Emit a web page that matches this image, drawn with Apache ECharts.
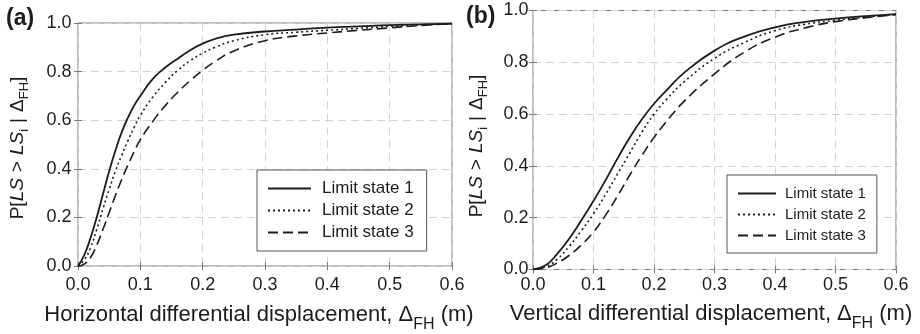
<!DOCTYPE html>
<html>
<head>
<meta charset="utf-8">
<script src="https://cdn.jsdelivr.net/npm/echarts@6/dist/echarts.min.js"></script>
<style>
html,body{margin:0;padding:0;background:#fff;}
#c{width:920px;height:334px;}
</style>
</head>
<body>
<div id="c"></div>
<script>
// ---- data ----
const seriesNames = ['Limit state 1', 'Limit state 2', 'Limit state 3'];

// (a) horizontal differential displacement
const xsH  = [0, 0.01, 0.02, 0.03, 0.04, 0.05, 0.06, 0.07, 0.08, 0.09, 0.1, 0.12, 0.14, 0.16, 0.18, 0.2, 0.22, 0.25, 0.3, 0.35, 0.4, 0.45, 0.5, 0.55, 0.6];
const ls1H = [0, 0.045, 0.115, 0.20, 0.295, 0.39, 0.475, 0.55, 0.61, 0.66, 0.70, 0.77, 0.817, 0.853, 0.888, 0.915, 0.935, 0.952, 0.965, 0.973, 0.981, 0.986, 0.991, 0.994, 0.997];
const ls2H = [0, 0.025, 0.075, 0.15, 0.235, 0.315, 0.39, 0.455, 0.515, 0.57, 0.62, 0.695, 0.755, 0.805, 0.845, 0.876, 0.90, 0.927, 0.952, 0.962, 0.970, 0.978, 0.986, 0.992, 0.997];
const ls3H = [0, 0.008, 0.035, 0.085, 0.15, 0.22, 0.29, 0.355, 0.415, 0.47, 0.52, 0.595, 0.66, 0.715, 0.763, 0.805, 0.842, 0.885, 0.927, 0.947, 0.959, 0.97, 0.98, 0.99, 0.997];

// (b) vertical differential displacement
const xsV  = [0, 0.02, 0.04, 0.06, 0.08, 0.1, 0.12, 0.14, 0.16, 0.18, 0.2, 0.22, 0.25, 0.3, 0.35, 0.4, 0.45, 0.5, 0.55, 0.6];
const ls1V = [0, 0.015, 0.06, 0.12, 0.19, 0.265, 0.345, 0.43, 0.51, 0.58, 0.64, 0.69, 0.76, 0.845, 0.90, 0.935, 0.956, 0.969, 0.978, 0.986];
const ls2V = [0, 0.01, 0.04, 0.09, 0.15, 0.215, 0.29, 0.37, 0.45, 0.53, 0.60, 0.655, 0.725, 0.815, 0.877, 0.922, 0.947, 0.962, 0.975, 0.985];
const ls3V = [0, 0.006, 0.025, 0.055, 0.095, 0.145, 0.21, 0.285, 0.365, 0.44, 0.51, 0.57, 0.65, 0.755, 0.84, 0.897, 0.933, 0.957, 0.972, 0.984];

const xMin = 0, xMax = 0.6, xStep = 0.1;
const yMin = 0, yMax = 1.0, yStep = 0.2;

// ---- styling ----
const FONT = '"Liberation Sans", Arial, sans-serif';
const INK = '#1c1c1c';
const BORDER = '#7a7a7a';
const GRIDC = '#d4d4d4';
const lineTypes = ['solid', [2, 3], [10, 5]];
const lineWidths = [1.8, 1.6, 1.6];

function zip(xs, ys) { return xs.map((x, i) => [x, ys[i]]); }

const grids = [
  { left: 78, top: 23, width: 374, height: 243 },
  { left: 533, top: 10.5, width: 363, height: 259 }
];

function xTitle(label) {
  return '{t|' + label + ', Δ}{s|FH}{t| (m)}';
}
const yTitle = '{t|P[}{it|LS}{g|>}{it|LS}{s|i}{g||}{t|Δ}{s|FH}{t|]}';

function titleRich(size, subSize, subPad, gapPad) {
  return {
    t: { fontFamily: FONT, fontSize: size, fill: INK, color: INK },
    g: { fontFamily: FONT, fontSize: size, fill: INK, color: INK, padding: [0, gapPad || 0, 0, gapPad || 0] },
    it: { fontFamily: FONT, fontSize: size, fill: INK, color: INK, fontStyle: 'italic' },
    s: { fontFamily: FONT, fontSize: subSize, fill: INK, color: INK, padding: [subPad, 0, 0, 0] }
  };
}

const xAxes = [], yAxes = [];
const panelCfg = [
  { tick: 18, xLabMargin: 10, yLabMargin: 6.5 },
  { tick: 18, xLabMargin: 7, yLabMargin: 4.5 }
];

panelCfg.forEach((p, g) => {
  xAxes.push({
    type: 'value', gridIndex: g, min: xMin, max: xMax, interval: xStep, position: 'bottom',
    axisLine: { show: false },
    axisTick: { show: true, inside: true, length: 4, lineStyle: { color: BORDER } },
    axisLabel: { fontFamily: FONT, fontSize: p.tick, color: INK, margin: p.xLabMargin, formatter: v => v.toFixed(1), showMaxLabel: true, showMinLabel: true },
    splitLine: { show: true, lineStyle: { color: GRIDC, type: [8, 5], width: 1 } }
  });
  xAxes.push({
    type: 'value', gridIndex: g, min: xMin, max: xMax, interval: xStep, position: 'top',
    axisLine: { show: false },
    axisTick: { show: true, inside: true, length: 4, lineStyle: { color: BORDER } },
    axisLabel: { show: false }, splitLine: { show: false }
  });
  yAxes.push({
    type: 'value', gridIndex: g, min: yMin, max: yMax, interval: yStep, position: 'left',
    axisLine: { show: false },
    axisTick: { show: true, inside: true, length: 4, lineStyle: { color: BORDER } },
    axisLabel: { fontFamily: FONT, fontSize: p.tick, color: INK, margin: p.yLabMargin, formatter: v => v.toFixed(1) },
    splitLine: { show: true, lineStyle: { color: GRIDC, type: [8, 5], width: 1 } }
  });
  yAxes.push({
    type: 'value', gridIndex: g, min: yMin, max: yMax, interval: yStep, position: 'right',
    axisLine: { show: false },
    axisTick: { show: true, inside: true, length: 4, lineStyle: { color: BORDER } },
    axisLabel: { show: false }, splitLine: { show: false }
  });
});

const panelData = [
  [zip(xsH, ls1H), zip(xsH, ls2H), zip(xsH, ls3H)],
  [zip(xsV, ls1V), zip(xsV, ls2V), zip(xsV, ls3V)]
];

const series = [];
panelData.forEach((sets, g) => {
  sets.forEach((d, k) => {
    series.push({
      type: 'line', name: seriesNames[k], data: d,
      xAxisIndex: g * 2, yAxisIndex: g * 2,
      smooth: 0.5,
      symbol: 'none', showSymbol: false, silent: true,
      lineStyle: { color: INK, width: lineWidths[k], type: lineTypes[k] },
      itemStyle: { color: INK },
      z: 5 - k
    });
  });
});

const legends = [
  { left: 257, top: 170, itemWidth: 43, itemHeight: 14, itemGap: 5, fontSize: 17, padding: [10, 13, 10, 10], textPad: 6 },
  { left: 727, top: 175, itemWidth: 38, itemHeight: 14, itemGap: 6, fontSize: 15, padding: [11, 11, 10, 10], textPad: 4 }
].map(l => ({
  show: true, orient: 'vertical', left: l.left, top: l.top,
  data: seriesNames,
  itemWidth: l.itemWidth, itemHeight: l.itemHeight, itemGap: l.itemGap,
  padding: l.padding,
  borderColor: '#555', borderWidth: 1, backgroundColor: '#fff',
  selectedMode: false,
  itemStyle: { opacity: 0, borderWidth: 0 },
  lineStyle: { opacity: 1 },
  textStyle: { fontFamily: FONT, fontSize: l.fontSize, color: INK, padding: [0, 0, 0, l.textPad] }
}));

function titleText(text, x, y, rot, size, subSize, subPad, gapPad) {
  return {
    type: 'text', x: x, y: y, rotation: rot, silent: true,
    style: { text: text, align: 'center', verticalAlign: 'middle', rich: titleRich(size, subSize, subPad, gapPad) }
  };
}

const option = {
  backgroundColor: '#fff',
  animation: false,
  grid: grids.map(gr => Object.assign({ show: true, borderColor: BORDER, borderWidth: 1, backgroundColor: 'transparent', containLabel: false }, gr)),
  xAxis: xAxes,
  yAxis: yAxes,
  legend: legends,
  series: series,
  graphic: [
    { type: 'text', left: 6, top: 7, style: { text: '(a)', fontFamily: FONT, fontSize: 23, fontWeight: 'bold', fill: INK } },
    { type: 'text', left: 466, top: 5, style: { text: '(b)', fontFamily: FONT, fontSize: 23, fontWeight: 'bold', fill: INK } },
    titleText(xTitle('Horizontal differential displacement'), 259, 315, 0, 22, 16, 20),
    titleText(xTitle('Vertical differential displacement'), 711, 314, 0, 22, 16, 20),
    titleText(yTitle, 18, 148, Math.PI / 2, 19, 13, 13, 6),
    titleText(yTitle, 477, 146, Math.PI / 2, 19, 13, 13, 6)
  ]
};

const chart = echarts.init(document.getElementById('c'), null, { renderer: 'canvas' });
chart.setOption(option);
</script>
</body>
</html>
